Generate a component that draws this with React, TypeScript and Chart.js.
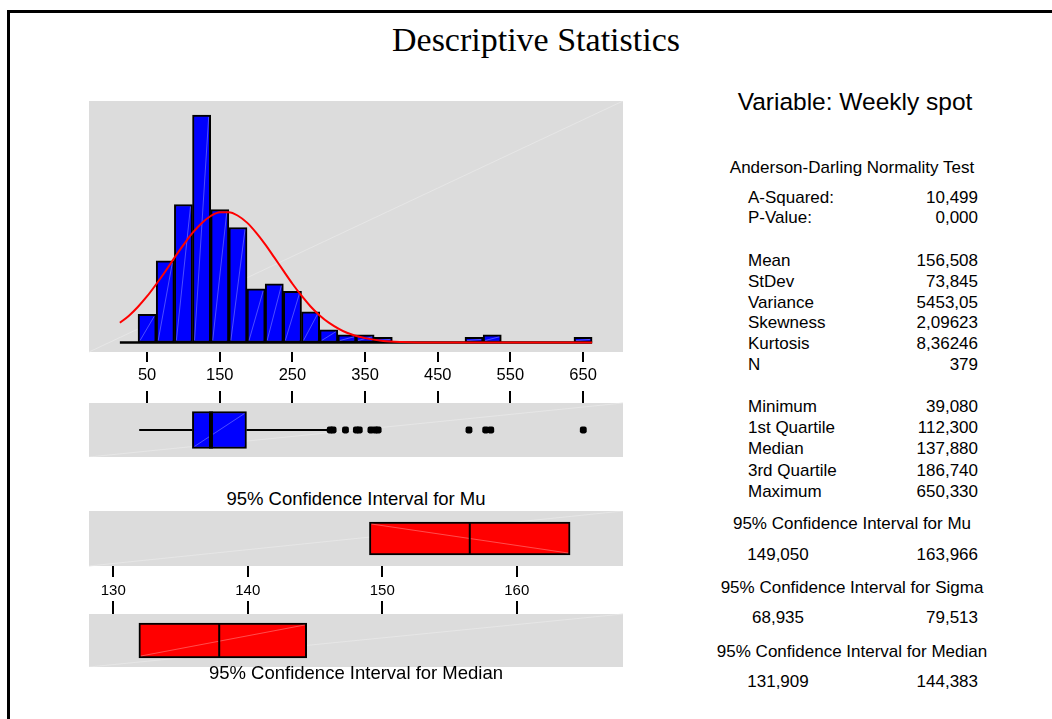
import React, { useEffect, useRef } from 'react';
import { Chart, registerables } from 'chart.js';

Chart.register(...registerables);

// ---------------- DATA ----------------
const chartTitle = 'Descriptive Statistics';
const variableTitle = 'Variable: Weekly spot';

// Histogram (bin midpoints, bin width 25)
const binWidth = 25;
const binMidpoints = [25, 50, 75, 100, 125, 150, 175, 200, 225, 250, 275, 300, 325, 350, 375, 400, 425, 450, 475, 500, 525, 550, 575, 600, 625, 650];
const binCounts = [0, 11, 32, 54, 89, 52, 45, 21, 23, 20, 12, 5, 3, 3, 2, 0, 0, 0, 0, 2, 3, 0, 0, 0, 0, 2];
const histTicks = [50, 150, 250, 350, 450, 550, 650];

// Fitted normal curve
const curveX = [12.5, 25, 37.5, 50, 62.5, 75, 87.5, 100, 112.5, 125, 137.5, 150, 162.5, 175, 187.5, 200, 212.5, 225, 237.5, 250, 262.5, 275, 287.5, 300, 325, 350, 375, 400, 450, 500, 550, 600, 662.5];
const curveY = [7.7, 10.5, 14.0, 18.1, 22.8, 27.8, 33.1, 38.2, 42.9, 46.7, 49.5, 51.0, 51.0, 49.6, 46.9, 43.0, 38.4, 33.3, 28.1, 23.0, 18.3, 14.1, 10.6, 7.8, 3.8, 1.7, 0.6, 0.2, 0, 0, 0, 0, 0];

// Box plot: [whisker low, Q1, median, Q3, whisker high]
const boxFive = [39.08, 112.3, 137.88, 186.74, 299];
const boxOutliers = [302, 306, 323, 338, 342, 358, 364, 368, 493, 516, 523, 650.33];

// Confidence intervals: [low, centre, high]
const ciMu = [149.05, 156.508, 163.966];
const ciMedian = [131.909, 137.88, 144.383];
const ciTicks = [130, 140, 150, 160];

// Statistics text
const adLabels = ['A-Squared:', 'P-Value:'];
const adValues = ['10,499', '0,000'];
const descLabels = ['Mean', 'StDev', 'Variance', 'Skewness', 'Kurtosis', 'N'];
const descValues = ['156,508', '73,845', '5453,05', '2,09623', '8,36246', '379'];
const quartLabels = ['Minimum', '1st Quartile', 'Median', '3rd Quartile', 'Maximum'];
const quartValues = ['39,080', '112,300', '137,880', '186,740', '650,330'];
const ciHeaders = ['95% Confidence Interval for Mu', '95% Confidence Interval for Sigma', '95% Confidence Interval for Median'];
const ciLows = ['149,050', '68,935', '131,909'];
const ciHighs = ['163,966', '79,513', '144,383'];

// ---------------- STYLE ----------------
const SANS = '"Liberation Sans", Arial, Helvetica, sans-serif';
const SERIF = '"Liberation Serif", "Times New Roman", serif';
const GREY = '#dcdcdc';
const BLUE = '#0000ff';
const RED = '#ff0000';

const panelPlugin = {
  id: 'panelBg',
  beforeDraw(chart: any) {
    const { ctx, chartArea: a } = chart;
    ctx.save();
    ctx.fillStyle = GREY;
    ctx.fillRect(a.left, a.top, a.right - a.left, a.bottom - a.top);
    ctx.strokeStyle = '#e6e6e6';
    ctx.lineWidth = 1;
    ctx.beginPath();
    ctx.moveTo(a.left, a.bottom);
    ctx.lineTo(a.right, a.top);
    ctx.stroke();
    ctx.restore();
  },
  afterDatasetDraw(chart: any, args: any, opts: any) {
    const meta = args.meta;
    if (meta.type !== 'bar') return;
    const dir = (opts && opts.barDiag) || 'up';
    const ctx = chart.ctx;
    ctx.save();
    ctx.strokeStyle = 'rgba(255,255,255,0.3)';
    ctx.lineWidth = 1;
    meta.data.forEach((el: any) => {
      const p = el.getProps(['x', 'y', 'base', 'horizontal', 'width', 'height'], true);
      let l, r, t, b;
      if (p.horizontal) {
        l = Math.min(p.x, p.base); r = Math.max(p.x, p.base);
        t = p.y - p.height / 2; b = p.y + p.height / 2;
      } else {
        l = p.x - p.width / 2; r = p.x + p.width / 2;
        t = Math.min(p.y, p.base); b = Math.max(p.y, p.base);
      }
      if (b - t < 5 || r - l < 5) return;
      l += 2; r -= 2; t += 2; b -= 2;
      ctx.beginPath();
      if (dir === 'down') { ctx.moveTo(l, t); ctx.lineTo(r, b); }
      else { ctx.moveTo(l, b); ctx.lineTo(r, t); }
      ctx.stroke();
    });
    ctx.restore();
  },
};

function xAxis(min: number, max: number, ticks: number[], position: string, showLabels: boolean, axisHeight: number, tickLength: number, fontSize: number, padding: number) {
  return {
    type: 'linear',
    min, max, position,
    offset: false,
    bounds: 'data',
    afterBuildTicks: (s: any) => { s.ticks = ticks.map((v) => ({ value: v })); },
    afterFit: (s: any) => { s.height = axisHeight; },
    grid: { display: true, offset: false, drawOnChartArea: false, drawTicks: true, tickLength, color: '#000', lineWidth: 2 },
    border: { display: false },
    ticks: {
      display: showLabels, color: '#000', padding, maxRotation: 0, minRotation: 0, autoSkip: false,
      font: { family: SANS, size: fontSize },
      callback: (v: any) => String(v),
    },
  };
}

function yAxis(min: number, max: number) {
  return { type: 'linear', min, max, display: false, offset: false, bounds: 'data', grid: { offset: false } };
}

function baseOptions(scales: any, diag: string) {
  return {
    responsive: false,
    animation: false,
    events: [],
    layout: { padding: 0, autoPadding: false },
    plugins: { legend: { display: false }, tooltip: { enabled: false }, title: { display: false }, panelBg: { barDiag: diag } },
    scales,
  };
}

const HIST_MIN = -30, HIST_MAX = 705;
const CI_MIN = 128.2, CI_MAX = 167.9;

function buildHistogram() {
  const lo = binMidpoints[0] - binWidth / 2;
  const hi = binMidpoints[binMidpoints.length - 1] + binWidth / 2;
  return {
    type: 'bar',
    data: {
      datasets: [
        {
          type: 'line', order: 1,
          data: curveX.map((x, i) => ({ x, y: curveY[i] })),
          borderColor: RED, borderWidth: 2, pointRadius: 0, cubicInterpolationMode: 'monotone', fill: false,
        },
        {
          type: 'line', order: 2,
          data: [{ x: lo, y: 0 }, { x: hi, y: 0 }],
          borderColor: '#000', borderWidth: 2.5, pointRadius: 0, fill: false,
        },
        {
          type: 'bar', order: 3,
          data: binMidpoints.map((x, i) => ({ x, y: binCounts[i] })),
          backgroundColor: BLUE, borderColor: '#000', borderWidth: 2, borderSkipped: false,
          barPercentage: 1, categoryPercentage: 1,
        },
      ],
    },
    options: baseOptions({
      x: xAxis(HIST_MIN, HIST_MAX, histTicks, 'bottom', true, 40, 10, 16.5, 4),
      y: yAxis(-3.72, 94.5),
    }, 'up'),
    plugins: [panelPlugin],
  };
}

function buildBoxplot() {
  const [wLo, q1, med, q3, wHi] = boxFive;
  const half = 37 / 54;
  return {
    type: 'bar',
    data: {
      datasets: [
        { type: 'line', order: 1, data: [{ x: med, y: -half }, { x: med, y: half }], borderColor: '#000', borderWidth: 4, pointRadius: 0 },
        {
          type: 'bar', order: 2, indexAxis: 'y',
          data: [{ x: [q1, q3], y: 0 }],
          backgroundColor: BLUE, borderColor: '#000', borderWidth: 2, borderSkipped: false, barThickness: 37,
        },
        { type: 'line', order: 3, data: [{ x: wLo, y: 0 }, { x: q1, y: 0 }], borderColor: '#000', borderWidth: 2, pointRadius: 0 },
        { type: 'line', order: 3, data: [{ x: q3, y: 0 }, { x: wHi, y: 0 }], borderColor: '#000', borderWidth: 2, pointRadius: 0 },
        {
          type: 'scatter', order: 0,
          data: boxOutliers.map((x) => ({ x, y: 0 })),
          pointStyle: 'rectRounded', pointRadius: 4, backgroundColor: '#000', borderColor: '#000', borderWidth: 0, showLine: false,
        },
      ],
    },
    options: baseOptions({
      x: xAxis(HIST_MIN, HIST_MAX, histTicks, 'top', false, 12, 12, 12, 0),
      y: yAxis(-1, 1),
    }, 'up'),
    plugins: [panelPlugin],
  };
}

function buildCI(ci: number[], position: string, showLabels: boolean, axisHeight: number, tickLength: number, thickness: number, panelH: number, diag: string) {
  const [lo, mid, hi] = ci;
  const half = thickness / panelH;
  return {
    type: 'bar',
    data: {
      datasets: [
        { type: 'line', order: 1, data: [{ x: mid, y: -half }, { x: mid, y: half }], borderColor: '#000', borderWidth: 2, pointRadius: 0 },
        {
          type: 'bar', order: 2, indexAxis: 'y',
          data: [{ x: [lo, hi], y: 0 }],
          backgroundColor: RED, borderColor: '#000', borderWidth: 2, borderSkipped: false, barThickness: thickness,
        },
      ],
    },
    options: baseOptions({
      x: xAxis(CI_MIN, CI_MAX, ciTicks, position, showLabels, axisHeight, tickLength, 15, 5),
      y: yAxis(-1, 1),
    }, diag),
    plugins: [panelPlugin],
  };
}

function ChartCanvas({ left, top, width, height, build }: { left: number; top: number; width: number; height: number; build: () => any }) {
  const ref = useRef<HTMLCanvasElement>(null);
  useEffect(() => {
    const chart = new Chart(ref.current as HTMLCanvasElement, build());
    return () => chart.destroy();
  }, []);
  return (
    <canvas
      ref={ref}
      width={width}
      height={height}
      style={{ position: 'absolute', left, top, width, height, display: 'block' }}
    />
  );
}

function Txt({ x, y, size, align = 'left', family = SANS, children }: { x: number; y: number; size: number; align?: string; family?: string; children: any }) {
  const style: any = {
    position: 'absolute',
    top: y - size * 0.59,
    fontFamily: family,
    fontSize: size,
    lineHeight: `${size * 1.2}px`,
    whiteSpace: 'nowrap',
    color: '#000',
  };
  if (align === 'left') style.left = x;
  else if (align === 'right') style.right = 1052 - x;
  else { style.left = x; style.transform = 'translateX(-50%)'; }
  return <div style={style}>{children}</div>;
}

export default function App() {
  const PX = 89;
  const PW = 534;
  const LABEL_X = 748;
  const VALUE_R = 978;
  const LOWCOL_C = 778;
  const HEAD_C = 852;
  const RS = 17;
  return (
    <div style={{ position: 'absolute', left: 0, top: 0, width: 1052, height: 719, background: '#fff', overflow: 'hidden' }}>
      <div style={{ position: 'absolute', left: 7, top: 10, width: 1060, height: 720, borderTop: '3px solid #000', borderLeft: '3px solid #000' }} />

      <Txt x={536} y={40} size={34} align="center" family={SERIF}>{chartTitle}</Txt>
      <Txt x={855} y={101} size={24.5} align="center">{variableTitle}</Txt>

      <ChartCanvas left={PX} top={101} width={PW} height={251 + 40} build={buildHistogram} />
      <ChartCanvas left={PX} top={391} width={PW} height={12 + 54} build={buildBoxplot} />

      <Txt x={PX + PW / 2} y={499} size={18.5} align="center">{ciHeaders[0]}</Txt>
      <ChartCanvas left={PX} top={511} width={PW} height={55 + 34} build={() => buildCI(ciMu, 'bottom', true, 34, 11, 33, 55, 'down')} />
      <ChartCanvas left={PX} top={601} width={PW} height={13 + 53} build={() => buildCI(ciMedian, 'top', false, 13, 13, 35, 53, 'up')} />
      <Txt x={PX + PW / 2} y={673} size={18.5} align="center">{ciHeaders[2]}</Txt>

      <Txt x={HEAD_C} y={168} size={RS} align="center">Anderson-Darling Normality Test</Txt>
      {adLabels.map((l, i) => (
        <React.Fragment key={'ad' + i}>
          <Txt x={LABEL_X} y={198 + i * 20} size={RS}>{l}</Txt>
          <Txt x={VALUE_R} y={198 + i * 20} size={RS} align="right">{adValues[i]}</Txt>
        </React.Fragment>
      ))}
      {descLabels.map((l, i) => (
        <React.Fragment key={'d' + i}>
          <Txt x={LABEL_X} y={261 + i * 20.8} size={RS}>{l}</Txt>
          <Txt x={VALUE_R} y={261 + i * 20.8} size={RS} align="right">{descValues[i]}</Txt>
        </React.Fragment>
      ))}
      {quartLabels.map((l, i) => (
        <React.Fragment key={'q' + i}>
          <Txt x={LABEL_X} y={407 + i * 21.25} size={RS}>{l}</Txt>
          <Txt x={VALUE_R} y={407 + i * 21.25} size={RS} align="right">{quartValues[i]}</Txt>
        </React.Fragment>
      ))}
      {ciHeaders.map((h, i) => (
        <React.Fragment key={'c' + i}>
          <Txt x={HEAD_C} y={524 + i * 64} size={RS} align="center">{h}</Txt>
          <Txt x={LOWCOL_C} y={555 + i * 63.5} size={RS} align="center">{ciLows[i]}</Txt>
          <Txt x={VALUE_R} y={555 + i * 63.5} size={RS} align="right">{ciHighs[i]}</Txt>
        </React.Fragment>
      ))}
    </div>
  );
}
